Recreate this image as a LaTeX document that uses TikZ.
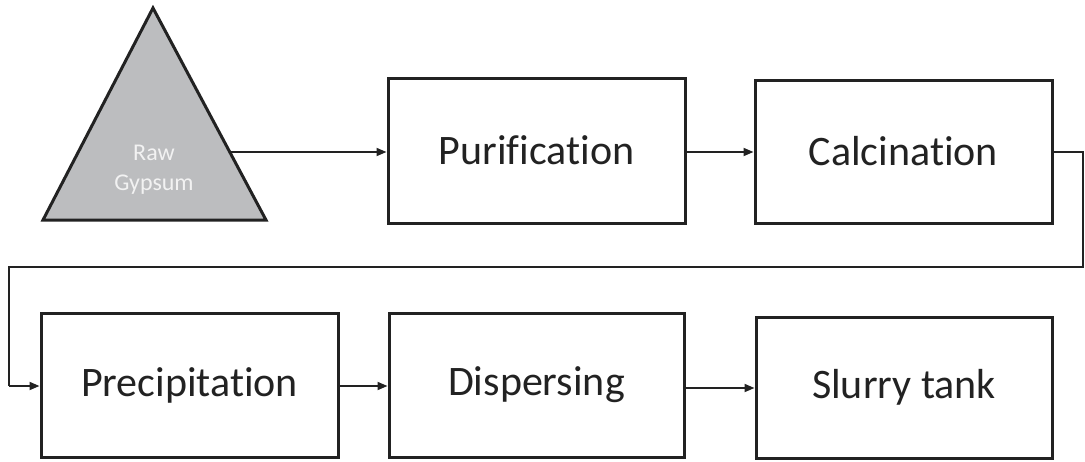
\documentclass[tikz,border=0pt]{standalone}
\usepackage{fontspec}
\setmainfont{Carlito}[Ligatures=NoCommon]
\usetikzlibrary{arrows.meta}
\definecolor{gyp}{HTML}{BCBDBF}
\definecolor{ink}{HTML}{222222}
\definecolor{gyptext}{HTML}{F2F2F2}
\tikzset{
  procbox/.style={draw=ink, line width=3pt, minimum width=297pt, minimum height=143pt,
    inner sep=0pt, font=\fontsize{42}{44}\selectfont, text=ink},
  flow/.style={draw=ink, line width=1.8pt, -{Triangle[length=10pt,width=8pt]}},
  flowline/.style={draw=ink, line width=1.8pt},
}
\begin{document}
\begin{tikzpicture}[x=1pt,y=-1pt]
\useasboundingbox (0,0) rectangle (1085,461);
% raw gypsum triangle
\draw[draw=ink, fill=gyp, line width=3pt, line join=miter] (153,8) -- (266,220) -- (43,220) -- cycle;
\node[text=gyptext, align=center, font=\fontsize{24}{30}\selectfont] (raw) at (154,170) {Raw\\Gypsum};
\coordinate (rawout) at (230,152);
% process boxes
\node[procbox, minimum height=145pt] (pur) at (536.5,150.5) {Purification};
\node[procbox] (cal) at (903.5,151.5) {Calcination};
\node[procbox, minimum height=144pt] (pre) at (189.5,385) {Precipitation};
\node[procbox, minimum height=144pt, minimum width=295pt] (dis) at (536.5,385) {Dispersing};
\node[procbox, minimum height=141pt, minimum width=296pt] (slu) at (904,387.5) {Slurry tank};
% connectors
\draw[flow] (rawout) -- (rawout -| pur.west);
\draw[flow] (pur.east |- 0,152) -- (cal.west |- 0,152);
\coordinate (c1) at (1083,152);
\coordinate (c2) at (1083,267);
\coordinate (c3) at (9,267);
\coordinate (c4) at (9,386);
\draw[flowline] (cal.east |- c1) -- (c1) -- (c2) -- (c3) -- (c4);
\draw[flow] (c4) -- (c4 -| pre.west);
\draw[flow] (pre.east |- 0,386) -- (dis.west |- 0,386);
\draw[flow] (dis.east |- 0,388) -- (slu.west |- 0,388);
\end{tikzpicture}
\end{document}
